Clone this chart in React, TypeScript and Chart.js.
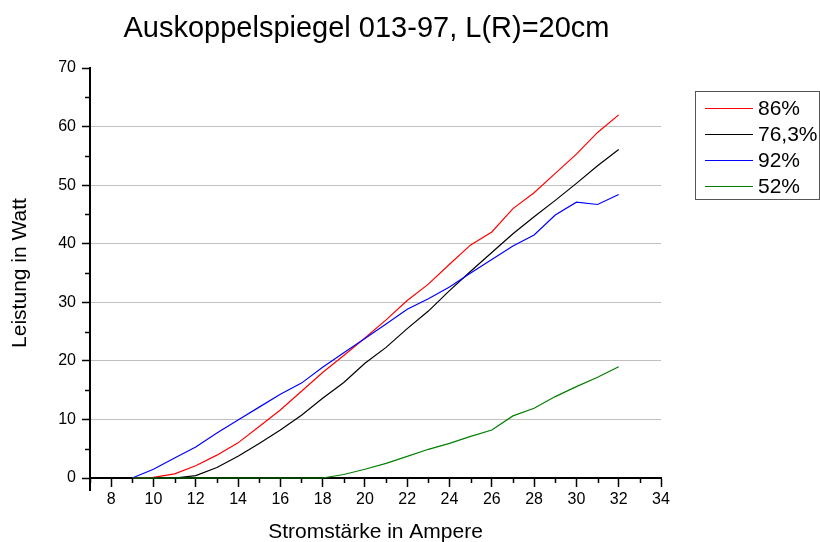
import React, { useEffect, useRef } from "react";
import { Chart, registerables } from "chart.js";

Chart.register(...registerables);

// ---- data ----
const chartTitle = "Auskoppelspiegel 013-97, L(R)=20cm";
const xTitle = "Stromstärke in Ampere";
const yTitle = "Leistung in Watt";

const currents = [9, 10, 11, 12, 13, 14, 15, 16, 17, 18, 19, 20, 21, 22, 23, 24, 25, 26, 27, 28, 29, 30, 31, 32];

const seriesLabels = ["86%", "76,3%", "92%", "52%"];
const seriesColors = ["#ff0000", "#000000", "#0000ff", "#008000"];

const power86 = [0, 0.1, 0.7, 2.1, 3.9, 6.0, 8.8, 11.6, 14.8, 18.0, 20.9, 23.9, 27.0, 30.3, 33.1, 36.5, 39.8, 42.0, 46.0, 48.7, 52.0, 55.3, 59.0, 62.0];
const power763 = [0, 0, 0, 0.4, 1.8, 3.7, 5.9, 8.2, 10.7, 13.6, 16.3, 19.6, 22.3, 25.5, 28.5, 32.0, 35.3, 38.5, 41.7, 44.6, 47.4, 50.3, 53.3, 56.1];
const power92 = [0, 1.5, 3.4, 5.3, 7.7, 9.9, 12.1, 14.3, 16.2, 18.9, 21.4, 23.8, 26.3, 28.8, 30.6, 32.6, 35.0, 37.3, 39.6, 41.5, 44.9, 47.1, 46.7, 48.4];
const power52 = [0, 0, 0, 0, 0, 0, 0, 0, 0, 0, 0.6, 1.5, 2.5, 3.7, 4.9, 5.9, 7.1, 8.2, 10.6, 11.9, 13.9, 15.6, 17.2, 19.0];

const seriesValues = [power86, power763, power92, power52];
const drawOrder = [3, 2, 1, 0];

const xMin = 7;
const xMax = 34;
const yMin = 0;
const yMax = 70;

const FONT = "'Liberation Sans', Arial, sans-serif";

// minor ticks, axis extension, title and legend
const decorPlugin = {
  id: "decor",
  afterDraw(chart: any) {
    const ctx = chart.ctx;
    const xs = chart.scales.x;
    const ys = chart.scales.y;
    const area = chart.chartArea;
    ctx.save();
    ctx.strokeStyle = "#000";
    ctx.lineWidth = 1.5;
    // minor x ticks (odd)
    for (let v = xMin; v <= xMax; v++) {
      if (v % 2 === 1) {
        const px = Math.round(xs.getPixelForValue(v)) + 0.5;
        ctx.beginPath();
        ctx.moveTo(px, area.bottom);
        ctx.lineTo(px, area.bottom + 5);
        ctx.stroke();
      }
    }
    // minor y ticks (5, 15, ...)
    for (let v = yMin + 5; v < yMax; v += 10) {
      const py = Math.round(ys.getPixelForValue(v)) + 0.5;
      ctx.beginPath();
      ctx.moveTo(area.left, py);
      ctx.lineTo(area.left - 5, py);
      ctx.stroke();
    }
    // y axis continues a little below zero
    ctx.lineWidth = 2;
    ctx.beginPath();
    ctx.moveTo(area.left, area.bottom);
    ctx.lineTo(area.left, area.bottom + 13);
    ctx.stroke();

    // title
    ctx.fillStyle = "#000";
    ctx.font = `29px ${FONT}`;
    ctx.textAlign = "center";
    ctx.textBaseline = "alphabetic";
    ctx.fillText(chartTitle, (area.left + area.right) / 2 - 9, 37);

    // legend
    const lx = area.right + 34;
    const ly = 91;
    const lw = 124;
    const rowH = 26;
    const lh = rowH * chart.data.datasets.length + 4;
    ctx.strokeStyle = "#555";
    ctx.lineWidth = 1;
    ctx.strokeRect(lx + 0.5, ly + 0.5, lw, lh);
    ctx.font = `21px ${FONT}`;
    ctx.textAlign = "left";
    ctx.textBaseline = "middle";
    chart.data.datasets.forEach((ds: any, i: number) => {
      const cy = ly + 17 + i * rowH + 0.5;
      ctx.strokeStyle = ds.borderColor;
      ctx.lineWidth = 1;
      ctx.beginPath();
      ctx.moveTo(lx + 10, cy);
      ctx.lineTo(lx + 58, cy);
      ctx.stroke();
      ctx.fillStyle = "#000";
      ctx.fillText(ds.label, lx + 63, cy + 1);
    });
    ctx.restore();
  },
};

export default function App() {
  const ref = useRef<HTMLCanvasElement | null>(null);

  useEffect(() => {
    if (!ref.current) return;
    const datasets = seriesLabels.map((label, i) => ({
      label,
      data: currents.map((c, j) => ({ x: c, y: seriesValues[i][j] })),
      borderColor: seriesColors[i],
      backgroundColor: seriesColors[i],
      borderWidth: 1.2,
      pointRadius: 0,
      fill: false,
      tension: 0,
      clip: 4,
      order: drawOrder[i],
    }));

    const chart = new Chart(ref.current, {
      type: "line",
      data: { datasets },
      plugins: [decorPlugin],
      options: {
        animation: false,
        responsive: false,
        devicePixelRatio: 1,
        layout: { padding: { top: 68, right: 159, bottom: 0, left: 0 } },
        plugins: {
          legend: { display: false },
          title: { display: false },
          tooltip: { enabled: false },
        },
        scales: {
          x: {
            type: "linear",
            min: xMin,
            max: xMax,
            afterFit: (s: any) => {
              s.height = 64;
            },
            ticks: {
              stepSize: 1,
              autoSkip: false,
              maxRotation: 0,
              padding: 3,
              color: "#000",
              font: { family: FONT, size: 16 },
              callback: (v: any) => (Number(v) % 2 === 0 ? String(v) : ""),
            },
            grid: {
              drawOnChartArea: false,
              drawTicks: true,
              tickLength: 9,
              tickWidth: 1.5,
              tickColor: (c: any) => (c.tick && c.tick.value % 2 === 0 ? "#000" : "rgba(0,0,0,0)"),
            },
            border: { display: true, color: "#000", width: 2 },
            title: {
              display: true,
              text: xTitle,
              color: "#000",
              font: { family: FONT, size: 21 },
              padding: { top: 0, bottom: -3 },
            },
          },
          y: {
            type: "linear",
            min: yMin,
            max: yMax,
            afterFit: (s: any) => {
              s.width = 90;
            },
            ticks: {
              stepSize: 5,
              autoSkip: false,
              padding: 6,
              color: "#000",
              font: { family: FONT, size: 16 },
              callback: (v: any) => (Number(v) % 10 === 0 ? String(v) : ""),
            },
            grid: {
              drawTicks: true,
              tickLength: 8,
              tickWidth: 1.5,
              lineWidth: 1,
              color: (c: any) =>
                c.tick && c.tick.value % 10 === 0 && c.tick.value > yMin && c.tick.value < yMax
                  ? "#c0c0c0"
                  : "rgba(0,0,0,0)",
              tickColor: (c: any) => (c.tick && c.tick.value % 10 === 0 ? "#000" : "rgba(0,0,0,0)"),
            },
            border: { display: true, color: "#000", width: 2 },
            title: {
              display: true,
              text: yTitle,
              color: "#000",
              font: { family: FONT, size: 21 },
              padding: { top: 8, bottom: 0 },
            },
          },
        },
      },
    });
    return () => chart.destroy();
  }, []);

  return (
    <div style={{ position: "absolute", left: 0, top: 0, width: 820, height: 542, background: "#fff" }}>
      <canvas ref={ref} width={820} height={542} style={{ display: "block" }} />
    </div>
  );
}
